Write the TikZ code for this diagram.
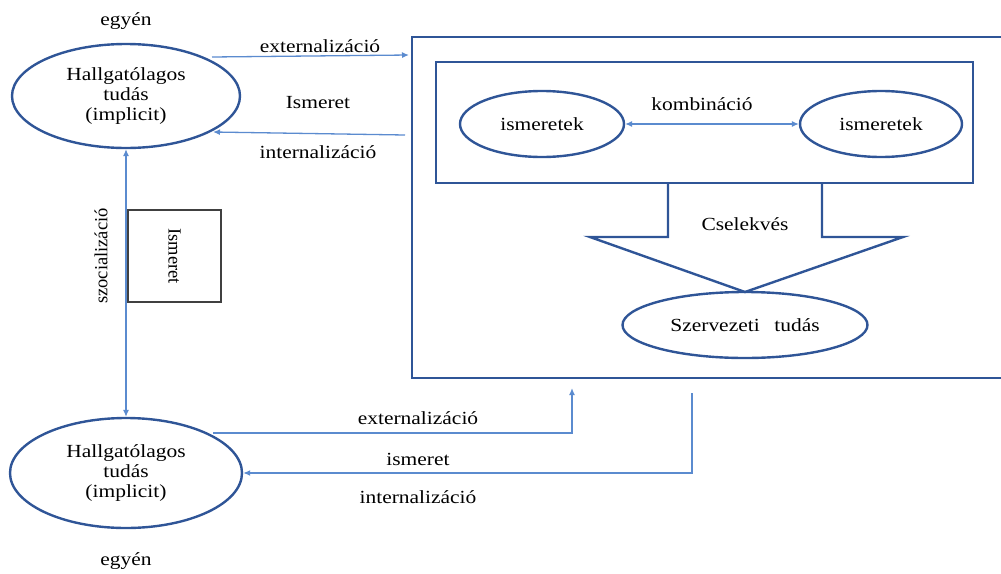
\documentclass[tikz,border=0pt]{standalone}
\usepackage{fontspec}
\setmainfont{Liberation Serif}[FakeStretch=1.16]
\newfontfamily\uprfont{Liberation Serif}
\usetikzlibrary{shapes.geometric,arrows.meta}
\definecolor{edgeblue}{HTML}{2F5597}
\definecolor{linkblue}{HTML}{5B8BCF}
\begin{document}
\begin{tikzpicture}[x=1pt,y=-1pt,
  txt/.style={font=\fontsize{18.5}{20}\selectfont, inner sep=0pt, align=center},
  rtxt/.style={font=\uprfont\fontsize{18.5}{20}\selectfont, inner sep=0pt},
  oval/.style={ellipse, draw=edgeblue, line width=2.4pt, inner sep=0pt, txt},
  frame/.style={draw=edgeblue, line width=2.4pt, inner sep=0pt},
  link/.style={draw=linkblue, line width=1.3pt, -{Latex[length=7pt,width=6pt]}},
  biglink/.style={draw=linkblue, line width=1.1pt, {Latex[length=7pt,width=6pt]}-{Latex[length=7pt,width=6pt]}}
]
\useasboundingbox (0,0) rectangle (1001,573);
\clip (0,0) rectangle (1001,573);

% individual tacit knowledge, top and bottom
\node[txt] (eg1) at (126,21) {egyén};
\node[oval, minimum width=228, minimum height=104] (t1) at (126,96) {Hallgatólagos\\tudás\\(implicit)};
\node[oval, minimum width=232, minimum height=110] (t2) at (126,473) {Hallgatólagos\\tudás\\(implicit)};
\node[txt] (eg2) at (126,561) {egyén};

% organisation frame
\node[frame, minimum width=600, minimum height=341] (org) at (712,207.5) {};
\node[frame, minimum width=537, minimum height=121] (inner) at (704.5,122.5) {};
\node[oval, minimum width=164, minimum height=66] (k1) at (542,124) {ismeretek};
\node[oval, minimum width=162, minimum height=66] (k2) at (881,124) {ismeretek};
\node[txt] (komb) at (702,104) {kombináció};
\draw[biglink] (k1) -- (k2);

% action block arrow
\coordinate (s1) at (668,183);
\coordinate (s2) at (822,183);
\coordinate (tip) at (745,292);
\draw[edgeblue, line width=2.4pt, line join=miter]
  (s1) -- (668,237) -- (590,237) -- (tip) -- (903,237) -- (822,237) -- (s2);
\node[txt] (csel) at (745,224) {Cselekvés};
\node[oval, minimum width=245, minimum height=66] (szerv) at (745,325) {Szervezeti\hspace{0.5em} tudás};

% upper exchange
\coordinate (ex1a) at (212,57);
\coordinate (ex1b) at (409,55);
\draw[link] (ex1a) -- (ex1b);
\coordinate (in1a) at (405,135);
\coordinate (in1b) at (213,132);
\draw[link] (in1a) -- (in1b);
\node[txt] (lex1) at (320,46) {externalizáció};
\node[txt] (lis1) at (318,103) {Ismeret};
\node[txt] (lin1) at (318,152) {internalizáció};

% socialisation
\draw[biglink] (t1.south) -- (t2.north);
\node[rtxt, rotate=90] (soc) at (101,256) {szocializáció};
\node[draw=black!75, line width=1.3pt, minimum width=93, minimum height=92, inner sep=0pt] (ibox) at (174.5,256) {};
\node[rtxt, rotate=-90] (ism) at (ibox.center) {Ismeret};

% lower exchange
\coordinate (ex2a) at (213,433);
\coordinate (ex2b) at (572,388);
\draw[link] (ex2a) -| (ex2b);
\coordinate (in2a) at (692,393);
\draw[link] (in2a) |- (t2.east);
\node[txt] (lex2) at (418,418) {externalizáció};
\node[txt] (lis2) at (418,459) {ismeret};
\node[txt] (lin2) at (418,497) {internalizáció};
\end{tikzpicture}
\end{document}
